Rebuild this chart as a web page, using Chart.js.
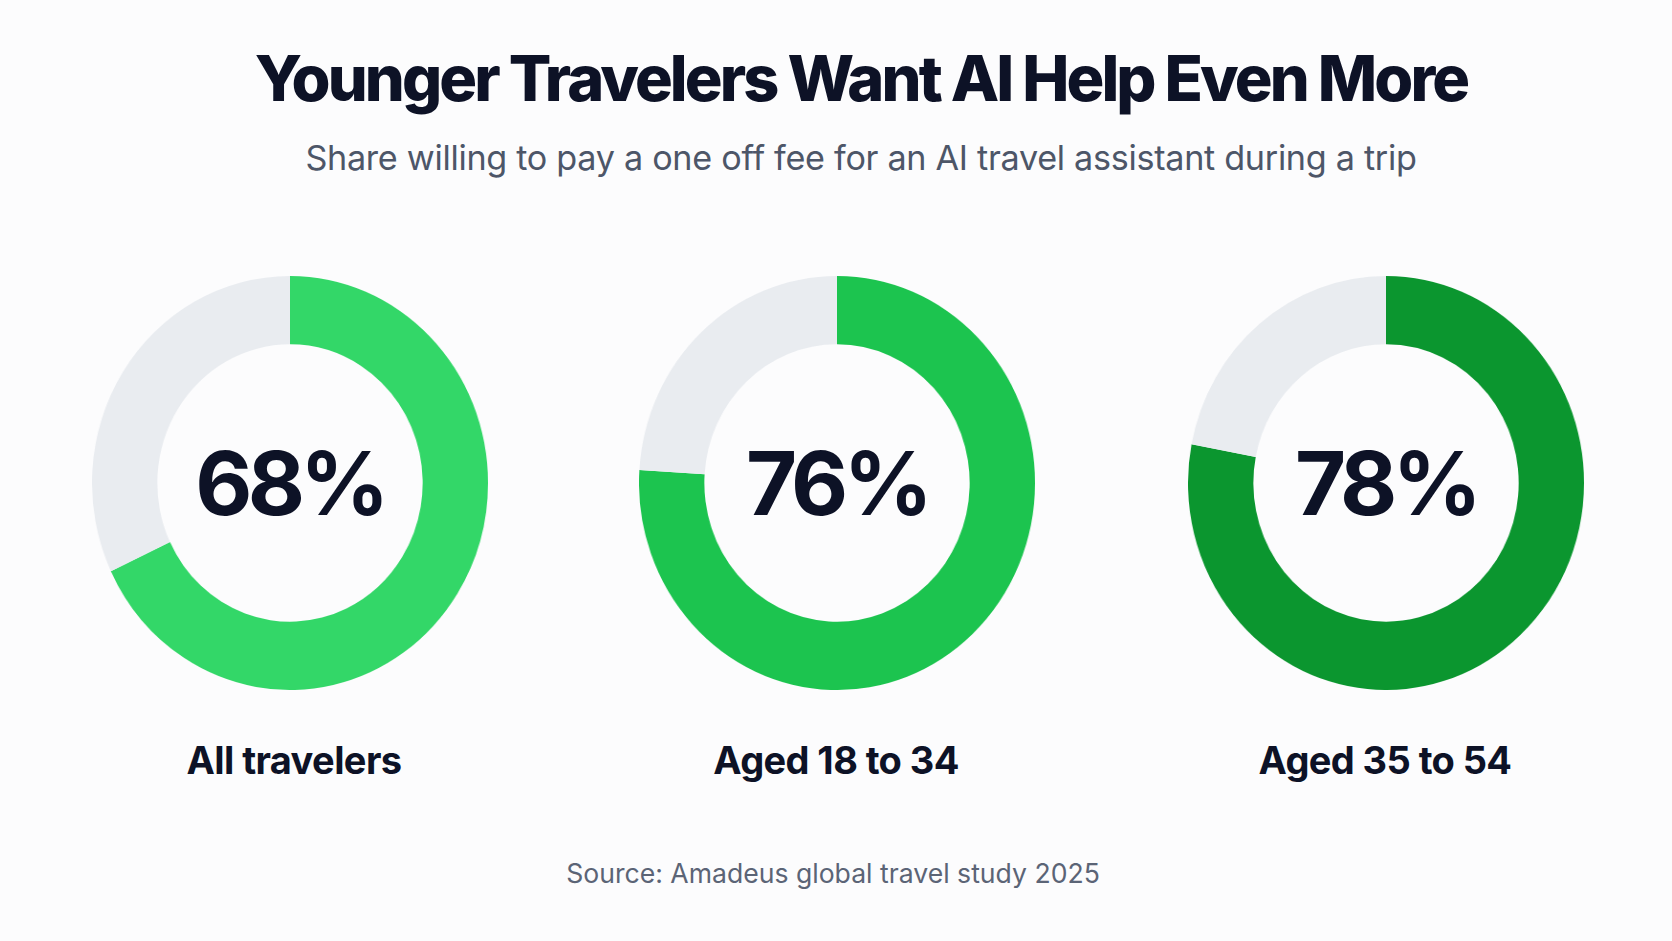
<!DOCTYPE html>
<html>
<head>
<meta charset="utf-8">
<script src="https://cdn.jsdelivr.net/npm/chart.js@4"></script>
<style>
  html, body { margin: 0; padding: 0; }
  body { width: 1672px; height: 941px; background: #fcfcfd; position: relative; overflow: hidden; font-family: Inter, "Noto Sans", sans-serif; }
  .title { position: absolute; left: 0; width: 1722px; top: 47px; text-align: center; font-size: 63px; font-weight: 800; color: #0d1226; letter-spacing: -2.9px; line-height: 1; }
  .subtitle { position: absolute; left: 0; width: 1722px; top: 141px; text-align: center; font-size: 34.2px; font-weight: 400; color: #4d5668; line-height: 1; letter-spacing: -0.3px; }
  .chartbox { position: absolute; width: 396px; height: 414px; }
  .chartbox canvas { width: 396px !important; height: 414px !important; display: block; }
  .center { position: absolute; left: 0; top: 0; width: 396px; height: 414px; display: flex; align-items: center; justify-content: center; font-size: 88px; font-weight: 700; color: #0d1226; letter-spacing: -4.8px; pointer-events: none; }
  .label { position: absolute; width: 500px; text-align: center; font-size: 38px; font-weight: 700; color: #0d1226; line-height: 1; letter-spacing: -0.6px; }
  .source { position: absolute; left: 0; width: 1666px; top: 860px; text-align: center; font-size: 26.6px; color: #5b6476; line-height: 1; }
</style>
</head>
<body>
<div class="title">Younger Travelers Want AI Help Even More</div>
<div class="subtitle">Share willing to pay a one off fee for an AI travel assistant during a trip</div>
<div id="charts"></div>
<div class="source">Source: Amadeus global travel study 2025</div>
<script>
const categories = ['All travelers', 'Aged 18 to 34', 'Aged 35 to 54'];
const shares = [68, 76, 78];
const greens = ['#33d768', '#1cc44f', '#0b962f'];
const restColor = '#e9ecf0';
const centersX = [290, 837, 1386];
const centerY = 483;
const boxW = 396, boxH = 414;

const host = document.getElementById('charts');
categories.forEach((cat, i) => {
  const box = document.createElement('div');
  box.className = 'chartbox';
  box.style.left = (centersX[i] - boxW / 2) + 'px';
  box.style.top = (centerY - boxH / 2) + 'px';
  const cv = document.createElement('canvas');
  cv.width = 414; cv.height = 414;
  box.appendChild(cv);
  const c = document.createElement('div');
  c.className = 'center';
  c.textContent = shares[i] + '%';
  box.appendChild(c);
  host.appendChild(box);

  const lab = document.createElement('div');
  lab.className = 'label';
  lab.textContent = cat;
  lab.style.left = (centersX[i] + (i === 0 ? 4 : -1) - 250) + 'px';
  lab.style.top = '741px';
  host.appendChild(lab);

  new Chart(cv, {
    type: 'doughnut',
    data: {
      labels: [cat, 'Other'],
      datasets: [{
        data: [shares[i], 100 - shares[i]],
        backgroundColor: [greens[i], restColor],
        borderWidth: 0,
        hoverOffset: 0
      }]
    },
    options: {
      responsive: false,
      animation: false,
      cutout: '67%',
      layout: { padding: 0 },
      plugins: { legend: { display: false }, tooltip: { enabled: false } },
      events: []
    }
  });
});
</script>
</body>
</html>
